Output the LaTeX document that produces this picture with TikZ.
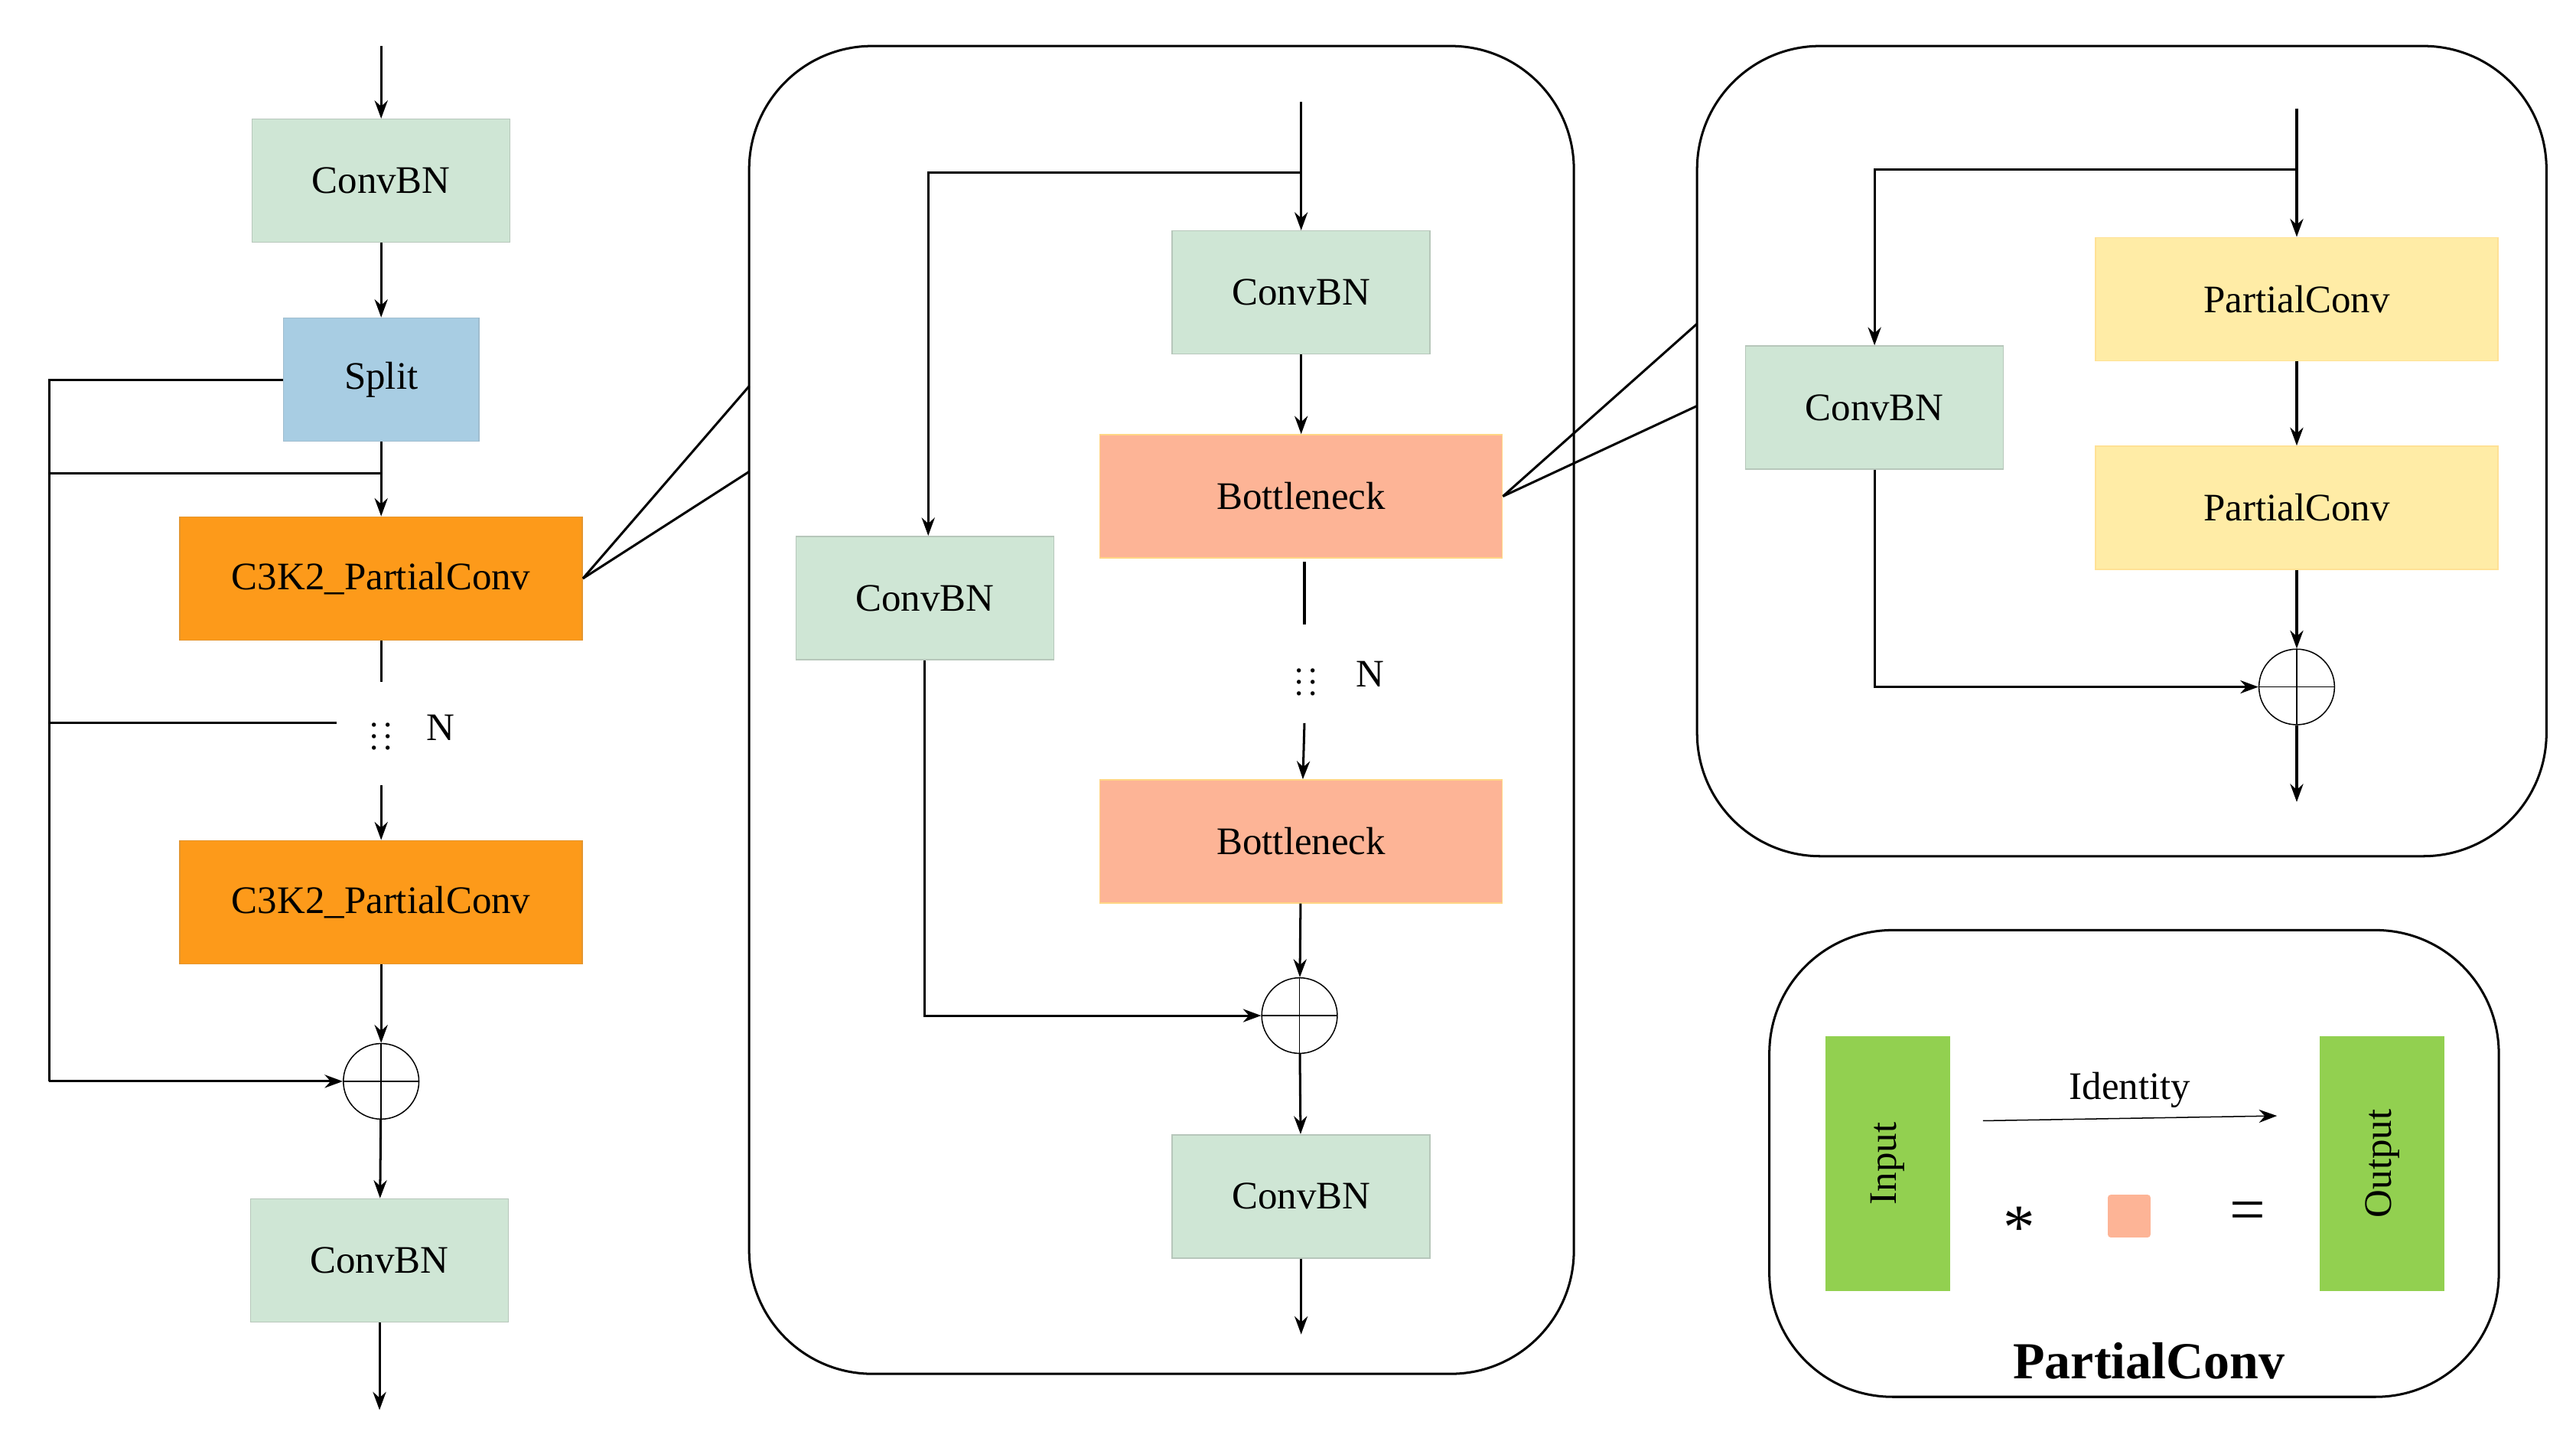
\documentclass[tikz,border=0pt]{standalone}
\usepackage{fontspec}
\setmainfont{Liberation Serif}
\usepackage{xcolor}
\usetikzlibrary{arrows.meta, positioning, calc}

\definecolor{cbn}{HTML}{CFE6D5}
\definecolor{splitc}{HTML}{A8CDE3}
\definecolor{c3k}{HTML}{FD9A1A}
\definecolor{bneck}{HTML}{FDB496}
\definecolor{pconv}{HTML}{FFECA6}
\definecolor{io}{HTML}{92D050}

\begin{document}
\begin{tikzpicture}[
    x=0.02cm, y=-0.02cm,
    txt/.style={font=\fontsize{13.5}{15}\selectfont},
    box/.style={rectangle, minimum width=3.14cm, minimum height=1.5cm, align=center, txt},
    conv/.style={box, fill=cbn, draw=cbn!70!gray},
    wide/.style={box, minimum width=4.9cm},
    dots/.style={inner sep=0pt, font=\fontsize{12}{12}\selectfont},
    plus/.style={circle, draw, minimum size=0.92cm, inner sep=0pt, path picture={
        \draw (path picture bounding box.north) -- (path picture bounding box.south)
              (path picture bounding box.west) -- (path picture bounding box.east);}},
    arrow/.style={-{Stealth[length=2.2mm,width=1.6mm]}, thick},
    line/.style={thick},
    panel/.style={draw, thick, rounded corners=1.5cm}
]
\useasboundingbox (0,0) rectangle (1568,875);

% left column
\node[conv] (cbn1) at (232,110) {ConvBN};
\node[box, fill=splitc, draw=splitc!80!gray, minimum width=2.38cm] (split) at (232,231) {Split};
\node[wide, fill=c3k, draw=c3k!80!gray] (c3a) at (232,352) {C3K2\_PartialConv};
\node[dots] (dotsL) at (232,443) {$\vdots\,\vdots$};
\node[txt] (nL) at (268,443) {N};
\node[wide, fill=c3k, draw=c3k!80!gray] (c3b) at (232,549) {C3K2\_PartialConv};
\node[plus] (addL) at (232,658) {};
\node[conv] (cbn2) at (231,767) {ConvBN};
\coordinate (inL) at (232,28);
\coordinate (outL) at (231,858);
\coordinate (sk1) at (30,231);
\coordinate (sk2) at (30,658);

\draw[arrow] (inL) -- (cbn1);
\draw[arrow] (cbn1) -- (split);
\draw[arrow] (split) -- (c3a);
\draw[line] (c3a.south) -- (232,415);
\draw[arrow] (232,478) -- (c3b);
\draw[arrow] (c3b) -- (addL);
\draw[arrow] (addL) -- (cbn2);
\draw[arrow] (cbn2) -- (outL);
\draw[line] (split.west) -- (sk1) -- (sk2);
\draw[arrow] (sk2) -- (addL.west);
\draw[line] (30,288) -- (232,288);
\draw[line] (30,440) -- (205,440);

% middle panel
\draw[panel] (456,28) rectangle (958,836);
\node[conv] (cbnM1) at (792,178) {ConvBN};
\node[conv] (cbnM2) at (563,364) {ConvBN};
\node[wide, fill=bneck, draw=pconv!80!orange] (bn1) at (792,302) {Bottleneck};
\node[dots] (dotsM) at (795,410) {$\vdots\,\vdots$};
\node[txt] (nM) at (834,410) {N};
\node[wide, fill=bneck, draw=pconv!80!orange] (bn2) at (792,512) {Bottleneck};
\node[plus] (addM) at (791,618) {};
\node[conv] (cbnM3) at (792,728) {ConvBN};
\coordinate (inM) at (792,62);
\coordinate (outM) at (792,812);

\draw[arrow] (inM) -- (cbnM1);
\draw[arrow] (792,105) -- (565,105) -- (565,326);
\draw[arrow] (cbnM1) -- (bn1);
\draw[line] (794,342) -- (794,380);
\draw[arrow] (794,440) -- (bn2);
\draw[arrow] (bn2) -- (addM);
\draw[arrow] (cbnM2.south) -- (563,618) -- (addM.west);
\draw[arrow] (addM) -- (cbnM3);
\draw[arrow] (cbnM3) -- (outM);

\draw[line] (c3a.east) -- (456,235);
\draw[line] (c3a.east) -- (456,287);

% right panel
\draw[panel] (1033,28) rectangle (1550,521);
\node[wide, fill=pconv, draw=pconv!90!orange] (pc1) at (1398,182) {PartialConv};
\node[wide, fill=pconv, draw=pconv!90!orange] (pc2) at (1398,309) {PartialConv};
\node[conv] (cbnR) at (1141,248) {ConvBN};
\node[plus] (addR) at (1398,418) {};
\coordinate (inR) at (1398,66);
\coordinate (outR) at (1398,488);

\draw[arrow] (inR) -- (pc1);
\draw[arrow] (1398,103) -- (1141,103) -- (cbnR);
\draw[arrow] (pc1) -- (pc2);
\draw[arrow] (pc2) -- (addR);
\draw[arrow] (cbnR.south) -- (1141,418) -- (addR.west);
\draw[arrow] (addR) -- (outR);

\draw[line] (bn1.east) -- (1033,197);
\draw[line] (bn1.east) -- (1033,247);

% legend
\draw[panel] (1077,566) rectangle (1521,850);
\node[box, fill=io, minimum width=1.52cm, minimum height=3.1cm] (input) at (1149,708) {};
\node[rotate=90, txt] at (input) {Input};
\node[box, fill=io, minimum width=1.52cm, minimum height=3.1cm] (output) at (1450,708) {};
\node[rotate=90, txt] at (output) {Output};
\coordinate (idA) at (1207,682);
\coordinate (idB) at (1386,679);
\draw[arrow, thin] (idA) -- node[above, txt] {Identity} (idB);
\node[font=\fontsize{22}{24}\selectfont] (star) at (1229,747) {*};
\node[fill=bneck, rounded corners=1pt, minimum size=0.52cm, inner sep=0pt] (sq) at (1296,740) {};
\node[font=\fontsize{22}{24}\selectfont] (eq) at (1368,740) {=};
\node[font=\fontsize{18}{20}\selectfont\bfseries] (title) at (1308,828) {PartialConv};
\end{tikzpicture}
\end{document}
